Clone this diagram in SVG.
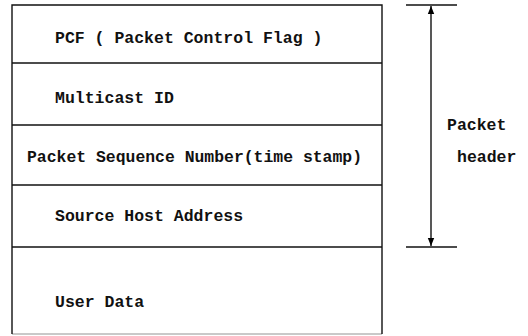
<svg xmlns="http://www.w3.org/2000/svg" width="528" height="336" viewBox="0 0 528 336">
<defs>
<marker id="ah" viewBox="0 0 10 10" refX="10" refY="5" markerWidth="8" markerHeight="8" markerUnits="userSpaceOnUse" orient="auto-start-reverse">
<path d="M0,1 L10,5 L0,9 Z" fill="#000"/>
</marker>
<style>
.t{font-family:"Liberation Mono","DejaVu Sans Mono",monospace;font-size:16.5px;font-weight:bold;fill:#111}
.ln{stroke:#111;stroke-width:1.4;fill:none}
</style>
</defs>
<rect width="528" height="336" fill="#fff"/>
<g id="connectors">
<line class="ln" x1="406" y1="5" x2="457" y2="5"/>
<line class="ln" x1="406" y1="247" x2="457" y2="247"/>
<line class="ln" x1="431" y1="6" x2="431" y2="246" marker-start="url(#ah)" marker-end="url(#ah)"/>
</g>
<g id="frame">
<path class="ln" d="M12,334 V5 H382 V334"/>
<line class="ln" x1="12" y1="334" x2="382" y2="334" stroke-opacity="0.3"/>
</g>
<g id="pcf"><line class="ln" x1="12" y1="63" x2="382" y2="63"/><text class="t" x="55" y="43">PCF ( Packet Control Flag )</text></g>
<g id="multicast"><line class="ln" x1="12" y1="125" x2="382" y2="125"/><text class="t" x="55" y="103">Multicast ID</text></g>
<g id="seq"><line class="ln" x1="12" y1="185" x2="382" y2="185"/><text class="t" x="27" y="162" textLength="335" lengthAdjust="spacingAndGlyphs">Packet Sequence Number(time stamp)</text></g>
<g id="source"><line class="ln" x1="12" y1="247" x2="382" y2="247"/><text class="t" x="55" y="221">Source Host Address</text></g>
<g id="userdata"><text class="t" x="55" y="307">User Data</text></g>
<g id="label"><text class="t" x="447" y="130">Packet</text><text class="t" x="457" y="162">header</text></g>
</svg>
